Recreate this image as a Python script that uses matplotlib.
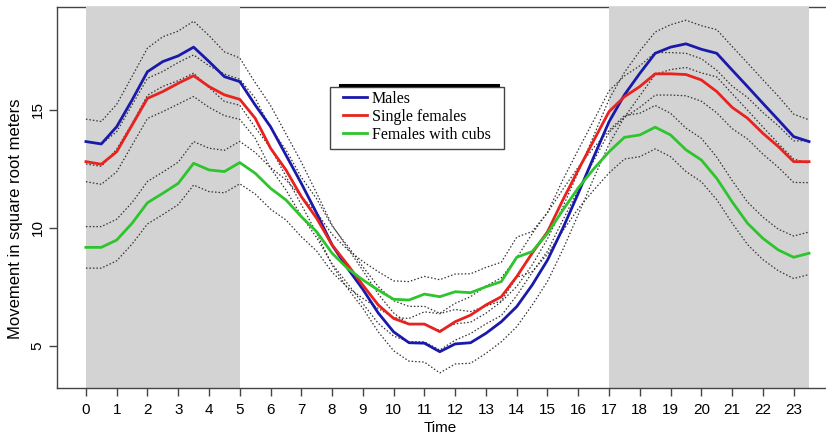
import numpy as np
import matplotlib
matplotlib.use('Agg')
import matplotlib.pyplot as plt
from matplotlib.lines import Line2D
from matplotlib.patches import Rectangle

plt.rcParams['font.family'] = ['Liberation Sans', 'DejaVu Sans']

# half-hour steps over the day
hours = np.arange(0, 24, 0.5)

males = [13.66, 13.56, 14.29, 15.42, 16.62, 17.05, 17.29, 17.66, 17.05, 16.41,
         16.20, 15.21, 14.29, 13.09, 11.89, 10.62, 9.28, 8.30, 7.40, 6.40,
         5.60, 5.14, 5.12, 4.76, 5.09, 5.14, 5.54, 6.03, 6.67, 7.58,
         8.64, 9.99, 11.47, 13.00, 14.50, 15.64, 16.55, 17.40, 17.66, 17.80,
         17.57, 17.40, 16.69, 15.99, 15.28, 14.58, 13.87, 13.66]
single_females = [12.81, 12.70, 13.23, 14.36, 15.49, 15.78, 16.13, 16.45, 15.99, 15.64,
                  15.45, 14.65, 13.38, 12.46, 11.33, 10.41, 9.28, 8.45, 7.58, 6.74,
                  6.17, 5.93, 5.93, 5.61, 6.03, 6.31, 6.74, 7.09, 7.94, 8.93,
                  9.84, 11.19, 12.46, 13.70, 14.93, 15.56, 15.99, 16.53, 16.53, 16.50,
                  16.27, 15.78, 15.11, 14.65, 14.01, 13.45, 12.81, 12.81]
females_cubs = [9.18, 9.18, 9.49, 10.20, 11.07, 11.47, 11.89, 12.74, 12.46, 12.39,
                12.77, 12.32, 11.68, 11.19, 10.48, 9.84, 8.93, 8.29, 7.80, 7.37,
                6.98, 6.95, 7.20, 7.09, 7.30, 7.26, 7.51, 7.73, 8.76, 9.00,
                9.77, 10.76, 11.70, 12.50, 13.23, 13.84, 13.94, 14.27, 13.94, 13.31,
                12.88, 12.10, 11.11, 10.20, 9.56, 9.07, 8.76, 8.93]

# confidence band half-widths
males_ci = [0.95, 0.95, 0.95, 1.00, 1.00, 1.05, 1.05, 1.10, 1.10, 1.05,
            1.00, 0.95, 0.90, 0.90, 0.90, 0.85, 0.85, 0.85, 0.80, 0.80,
            0.80, 0.78, 0.80, 0.90, 0.85, 0.87, 0.85, 0.85, 0.85, 0.85,
            0.90, 0.90, 0.90, 0.90, 0.95, 0.95, 0.95, 0.90, 0.95, 1.00,
            1.00, 1.00, 1.00, 1.00, 1.00, 1.00, 0.95, 0.92]
single_ci = [0.85, 0.85, 0.85, 0.85, 0.85, 0.85, 0.88, 0.88, 0.88, 0.88,
             0.85, 0.85, 0.85, 0.85, 0.82, 0.82, 0.80, 0.80, 0.78, 0.78,
             0.75, 0.75, 0.75, 0.78, 0.78, 0.78, 0.80, 0.80, 0.80, 0.82,
             0.82, 0.85, 0.85, 0.85, 0.88, 0.88, 0.88, 0.90, 0.90, 0.90,
             0.90, 0.90, 0.90, 0.88, 0.88, 0.88, 0.88, 0.89]
cubs_ci = [0.88, 0.88, 0.88, 0.88, 0.90, 0.90, 0.90, 0.92, 0.92, 0.90,
           0.90, 0.88, 0.88, 0.85, 0.85, 0.82, 0.80, 0.80, 0.78, 0.78,
           0.78, 0.78, 0.75, 0.72, 0.75, 0.80, 0.82, 0.82, 0.85, 0.85,
           0.88, 0.88, 0.88, 0.90, 0.90, 0.92, 0.92, 0.92, 0.92, 0.92,
           0.92, 0.90, 0.90, 0.90, 0.90, 0.88, 0.90, 0.90]

night_spans = [(0, 5), (17, 23.5)]
labels = ['Males', 'Single females', 'Females with cubs']
colors = ['#1a1aaa', '#e8221e', '#2ec42e']

W, H = 826, 438
fig = plt.figure(figsize=(W / 100, H / 100), dpi=100)
ax = fig.add_axes([0.069, 0.114, 0.9455, 0.870])

# shaded night hours (drawn over the box like the original)
for a, b in night_spans:
    ax.axvspan(a, b, color='#d3d3d3', lw=0, zorder=3)

series = [(males, males_ci), (single_females, single_ci), (females_cubs, cubs_ci)]
handles = []
for (vals, ci), c, lab in zip(series, colors, labels):
    vals = np.array(vals)
    ci = np.array(ci)
    ax.plot(hours, vals + ci, color='#333333', lw=0.9, ls=(0, (1.2, 1.6)), zorder=4)
    ax.plot(hours, vals - ci, color='#333333', lw=0.9, ls=(0, (1.2, 1.6)), zorder=4)
    h, = ax.plot(hours, vals, color=c, lw=2.0, zorder=5, label=lab)
    handles.append(h)

ax.set_xlim(-0.94, 24.44)
ax.set_ylim(3.22, 19.36)
ax.set_xticks(range(0, 24))
ax.set_yticks([5, 10, 15])
for s in ax.spines.values():
    s.set_color('#444444')
    s.set_linewidth(1.0)
ax.spines['bottom'].set_zorder(3.5)
ax.tick_params(axis='both', direction='out', length=6, width=1.0, color='#444444',
               labelsize=11, pad=5)
ax.tick_params(axis='y', labelrotation=90, pad=3)
for t in ax.get_yticklabels():
    t.set_va('center')
ax.set_xlabel('Time', fontsize=11)
ax.xaxis.set_label_coords(0.4904, -0.086)
ax.set_ylabel('Movement in square root meters', fontsize=12)
ax.yaxis.set_label_coords(-0.043, 0.4436)

# legend box with the uneven R-style padding
fig.add_artist(Rectangle((330 / W, 1 - 149 / H), 174 / W, 62 / H,
                         transform=fig.transFigure, facecolor='white',
                         edgecolor='#444444', lw=1.0, zorder=6))
fig.legend(handles=handles, loc='upper left', bbox_to_anchor=(343 / W, 1 - 91 / H),
           bbox_transform=fig.transFigure, borderaxespad=0, borderpad=0,
           prop={'family': 'Liberation Serif', 'size': 11.5},
           frameon=False, handlelength=1.5, handletextpad=0.3,
           labelspacing=0.12).set_zorder(7)

# thick bar sitting on top of the legend box
fig.add_artist(Line2D([340 / W, 498 / W], [1 - 85 / H, 1 - 85 / H],
                      color='black', lw=2.2, zorder=7))

fig.savefig('out.png', dpi=100)
